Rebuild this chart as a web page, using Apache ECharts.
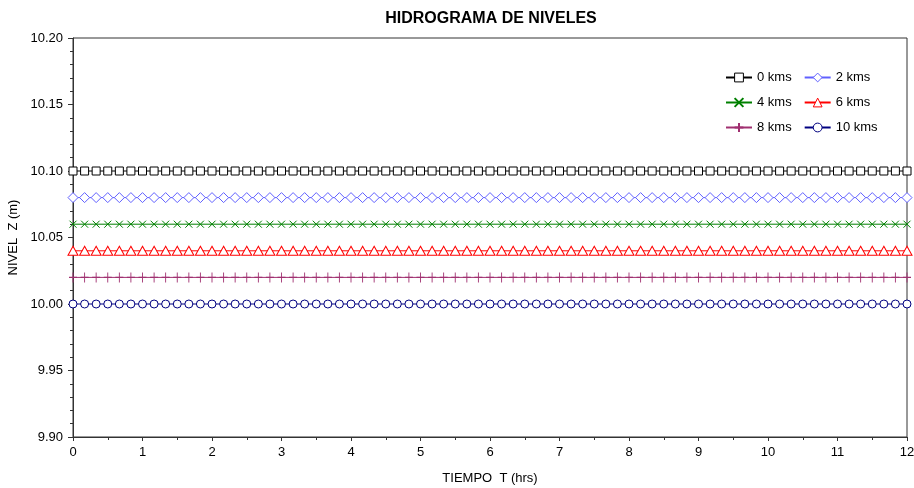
<!DOCTYPE html>
<html>
<head>
<meta charset="utf-8">
<script src="https://cdn.jsdelivr.net/npm/echarts@6/dist/echarts.min.js"></script>
<style>
  html, body { margin: 0; padding: 0; background: #fff; }
  #chart { width: 914px; height: 488px; }
</style>
</head>
<body>
<div id="chart"></div>
<script>
  // tiempos de muestreo (hrs), cada 10 min
  var tiempo = [
    0, 0.167, 0.333, 0.5, 0.667, 0.833,
    1, 1.167, 1.333, 1.5, 1.667, 1.833,
    2, 2.167, 2.333, 2.5, 2.667, 2.833,
    3, 3.167, 3.333, 3.5, 3.667, 3.833,
    4, 4.167, 4.333, 4.5, 4.667, 4.833,
    5, 5.167, 5.333, 5.5, 5.667, 5.833,
    6, 6.167, 6.333, 6.5, 6.667, 6.833,
    7, 7.167, 7.333, 7.5, 7.667, 7.833,
    8, 8.167, 8.333, 8.5, 8.667, 8.833,
    9, 9.167, 9.333, 9.5, 9.667, 9.833,
    10, 10.167, 10.333, 10.5, 10.667, 10.833,
    11, 11.167, 11.333, 11.5, 11.667, 11.833,
    12
  ];

  // nivel constante de cada estacion (m)
  var estaciones = ['0 kms', '2 kms', '4 kms', '6 kms', '8 kms', '10 kms'];
  var niveles = [10.10, 10.08, 10.06, 10.04, 10.02, 10.00];

  var colores = ['#000000', '#6060ff', '#008000', '#ff0000', '#a03070', '#000080'];
  var simbolos = [
    'emptyRect',
    'emptyDiamond',
    'path://M0,0L10,10M10,0L0,10',
    'emptyTriangle',
    'path://M5,0L5,10M0,5L10,5',
    'emptyCircle'
  ];
  var tamanos = [[8, 8], [10, 10], [7, 7], [10, 9], [8, 10], [8, 8]];

  var fuente = 'Liberation Sans';

  var myChart = echarts.init(document.getElementById('chart'));

  var series = estaciones.map(function (nombre, i) {
    return {
      name: nombre,
      type: 'line',
      data: tiempo.map(function (t) { return [t, niveles[i]]; }),
      symbol: simbolos[i],
      symbolSize: tamanos[i],
      showAllSymbol: true,
      animation: false,
      lineStyle: { color: colores[i], width: 1 },
      itemStyle: { color: colores[i], borderColor: colores[i], borderWidth: 1 },
      emphasis: { disabled: true }
    };
  });

  var option = {
    backgroundColor: '#fff',
    title: {
      text: 'HIDROGRAMA DE NIVELES',
      left: 486,
      textAlign: 'center',
      top: 6,
      textStyle: { fontFamily: fuente, fontSize: 16, fontWeight: 'bold', color: '#000' }
    },
    legend: {
      left: 720,
      top: 66,
      width: 185,
      itemWidth: 26,
      itemHeight: 11,
      itemGap: 12,
      data: estaciones,
      textStyle: { fontFamily: fuente, fontSize: 13, color: '#000' }
    },
    grid: {
      left: 73, right: 7, top: 38, bottom: 51,
      outerBoundsMode: 'none',
      show: true, borderColor: '#333', borderWidth: 1
    },
    xAxis: {
      type: 'value',
      min: 0, max: 12, interval: 1,
      name: 'TIEMPO  T (hrs)',
      nameLocation: 'middle',
      nameGap: 35,
      nameTextStyle: { fontFamily: fuente, fontSize: 13, color: '#000' },
      axisLine: { lineStyle: { color: '#333' } },
      axisTick: { length: 4, lineStyle: { color: '#333' } },
      minorTick: { show: true, splitNumber: 2, length: 3, lineStyle: { color: '#333' } },
      splitLine: { show: false },
      axisLabel: { margin: 9, fontFamily: fuente, fontSize: 13, color: '#000' }
    },
    yAxis: {
      type: 'value',
      min: 9.9, max: 10.2, interval: 0.05,
      name: 'NIVEL  Z (m)',
      nameLocation: 'middle',
      nameGap: 52,
      nameTextStyle: { fontFamily: fuente, fontSize: 13, color: '#000' },
      axisLine: { show: true, lineStyle: { color: '#333' } },
      axisTick: { show: true, length: 5, lineStyle: { color: '#333' } },
      minorTick: { show: true, splitNumber: 5, length: 3, lineStyle: { color: '#333' } },
      splitLine: { show: false },
      axisLabel: {
        margin: 10, fontFamily: fuente, fontSize: 13, color: '#000',
        formatter: function (v) { return v.toFixed(2); }
      }
    },
    series: series
  };

  myChart.setOption(option);

  // los simbolos "empty" salen con trazo de 2px, se dejan en 1px como el original
  myChart.getZr().storage.getDisplayList(true).forEach(function (el) {
    if (el.__isEmptyBrush) {
      el.style.lineWidth = 1;
      el.markRedraw();
    }
  });

  window.onresize = () => myChart.resize()
</script>
</body>
</html>
